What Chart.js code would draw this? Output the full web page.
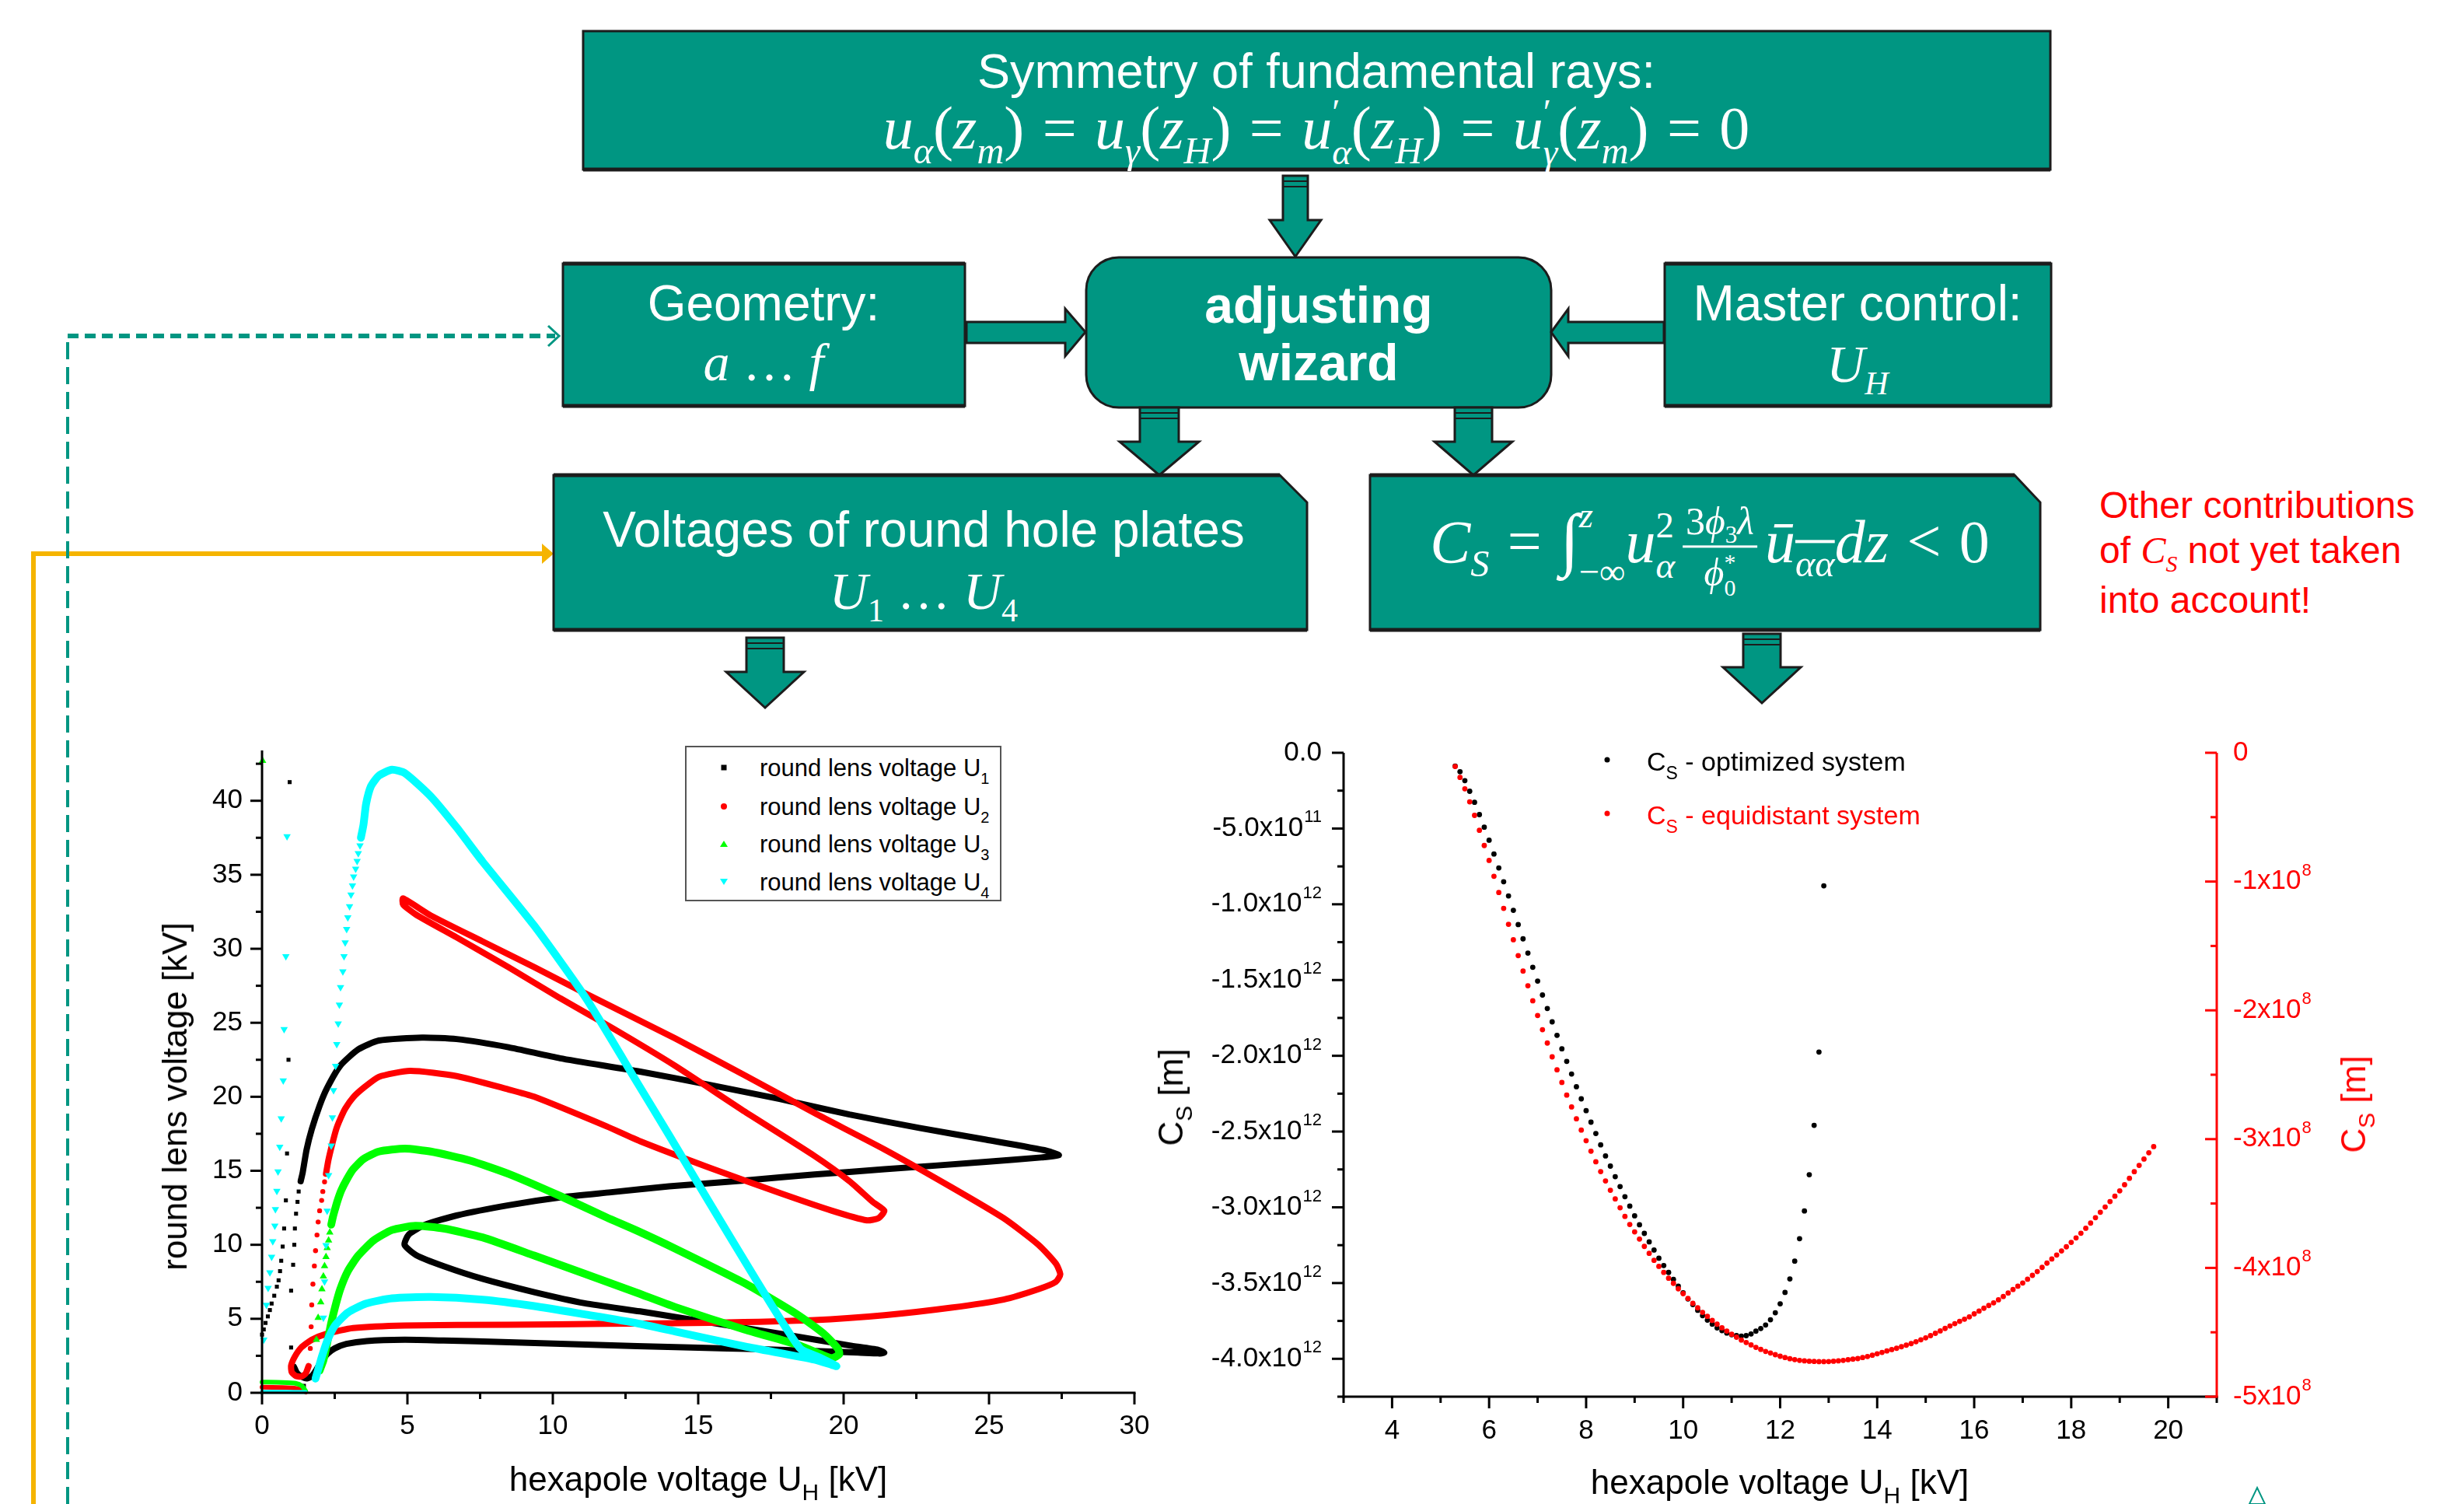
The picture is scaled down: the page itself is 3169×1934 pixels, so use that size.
<!DOCTYPE html>
<html>
<head>
<meta charset="utf-8">
<title>Adjusting wizard: round lens voltages and C_S</title>
<script src="https://cdn.jsdelivr.net/npm/chart.js@4.4.1/dist/chart.umd.min.js"></script>
<style>
  html, body { margin: 0; padding: 0; background: #fff; }
  body { position: relative; width: 3169px; height: 1934px; overflow: hidden; font-family: "Liberation Sans", Arial, sans-serif; }
  .abs { position: absolute; }
  .txt { position: absolute; color: #fff; white-space: nowrap; transform: translate(-50%, -50%); line-height: 1; }
  .m { font-family: "Liberation Serif", "DejaVu Serif", serif; }
  .eq { margin: 0 0.3em; }
  .sb { font-size: 0.62em; position: relative; top: 0.38em; }
  .stk { display: inline-flex; flex-direction: column; font-size: 0.6em; line-height: 1.1; vertical-align: 0.67em; text-align: left; }
  .frac { display: inline-flex; flex-direction: column; align-items: center; font-size: 0.64em; line-height: 1.1; vertical-align: 0.72em; margin: 0 10px; }
  .frac > span:first-child { border-bottom: 3px solid #fff; padding: 0 4px 3px; }
  .frac > span:last-child { padding-top: 3px; }
  .atitle { position: absolute; white-space: nowrap; font-size: 44px; line-height: 1; transform: translate(-50%, -50%); }
  .rot { transform: translate(-50%, -50%) rotate(-90deg); }
  .asub { font-size: 30px; position: relative; top: 12px; }
  .lrow { position: absolute; left: 0; height: 0; }
  .mk { position: absolute; left: 48px; transform: translate(-50%, -50%); }
  .lt { position: absolute; left: 94px; top: 0; transform: translateY(-50%); font-size: 31px; white-space: nowrap; line-height: 1; }
  .lsub { font-size: 20px; position: relative; top: 10px; }
  .sq { width: 7px; height: 7px; background: #000; }
  .ci { width: 8px; height: 8px; border-radius: 50%; background: #f00; }
  .tu { width: 0; height: 0; border-left: 5px solid transparent; border-right: 5px solid transparent; border-bottom: 8px solid #0f0; }
  .td { width: 0; height: 0; border-left: 5px solid transparent; border-right: 5px solid transparent; border-top: 8px solid #0ff; }
  .dot { position: absolute; width: 7px; height: 7px; border-radius: 50%; transform: translate(-50%, -50%); }
  .clt { position: absolute; font-size: 34px; line-height: 1; white-space: nowrap; }
  .csub { font-size: 23px; position: relative; top: 11px; }
</style>
</head>
<body>

<svg class="abs" style="left:0;top:0" width="3169" height="1934">
  <!-- feedback lines -->
  <polyline points="43,1934 43,712 700,712" fill="none" stroke="#f5b400" stroke-width="6"/>
  <polygon points="697,699 712,712 697,725" fill="#f5b400"/>
  <line x1="87" y1="1934" x2="87" y2="432" stroke="#009682" stroke-width="4" stroke-dasharray="22 10"/>
  <line x1="87" y1="432" x2="714" y2="432" stroke="#009682" stroke-width="6" stroke-dasharray="14 8"/>
  <polyline points="705,419 719,432 705,445" fill="none" stroke="#009682" stroke-width="3"/>

  <g fill="#009682" stroke="#1c1c1c" stroke-width="3">
    <rect x="750" y="40" width="1887" height="178"/>
    <rect x="724" y="339" width="517" height="183"/>
    <rect x="1397" y="331" width="598" height="193" rx="42"/>
    <rect x="2141" y="339" width="497" height="183"/>
    <polygon points="712,611 1646,611 1681,646 1681,810 712,810"/>
    <polygon points="1762,611 2591,611 2624,646 2624,810 1762,810"/>
    <!-- block arrows -->
    <polygon points="1650,226 1682,226 1682,283 1699,283 1666,330 1633,283 1650,283"/>
    <polygon points="1466,524 1516,524 1516,568 1542,568 1491,611 1440,568 1466,568"/>
    <polygon points="1871,524 1919,524 1919,568 1945,568 1895,611 1845,568 1871,568"/>
    <polygon points="960,820 1008,820 1008,864 1034,864 984,910 934,864 960,864"/>
    <polygon points="2242,815 2290,815 2290,858 2316,858 2266,904 2216,858 2242,858"/>
    <polygon points="1243,414 1370,414 1370,397 1396,427 1370,458 1370,441 1243,441"/>
    <polygon points="2140,414 2017,414 2017,397 1995,427 2017,458 2017,441 2140,441"/>
  </g>
  <g stroke="#1c1c1c" stroke-width="5">
    <line x1="750" y1="218" x2="2637" y2="218"/>
    <line x1="724" y1="339" x2="1241" y2="339"/>
    <line x1="724" y1="522" x2="1241" y2="522"/>
    <line x1="2141" y1="339" x2="2638" y2="339"/>
    <line x1="2141" y1="522" x2="2638" y2="522"/>
    <line x1="712" y1="611" x2="1646" y2="611"/>
    <line x1="712" y1="810" x2="1681" y2="810"/>
    <line x1="1762" y1="611" x2="2591" y2="611"/>
    <line x1="1762" y1="810" x2="2624" y2="810"/>
  </g>
  <g stroke="#1c1c1c" stroke-width="2">
    <line x1="1650" y1="233" x2="1682" y2="233"/><line x1="1650" y1="240" x2="1682" y2="240"/>
    <line x1="1466" y1="531" x2="1516" y2="531"/><line x1="1466" y1="538" x2="1516" y2="538"/>
    <line x1="1871" y1="531" x2="1919" y2="531"/><line x1="1871" y1="538" x2="1919" y2="538"/>
    <line x1="960" y1="827" x2="1008" y2="827"/><line x1="960" y1="834" x2="1008" y2="834"/>
    <line x1="2242" y1="822" x2="2290" y2="822"/><line x1="2242" y1="829" x2="2290" y2="829"/>
  </g>
  <polygon points="2893,1934 2903,1913 2913,1934" fill="none" stroke="#009682" stroke-width="2"/>
</svg>

<!-- flow chart texts -->
<div class="txt" style="left:1693px;top:91px;font-size:63px">Symmetry of fundamental rays:</div>
<div class="txt m" style="left:1693px;top:170px;font-size:78px">
  <i>u</i><span class="sb"><i>α</i></span>(<i>z</i><span class="sb"><i>m</i></span>)<span class="eq">=</span><i>u</i><span class="sb"><i>γ</i></span>(<i>z</i><span class="sb"><i>H</i></span>)<span class="eq">=</span><i>u</i><span class="stk"><span>′</span><span><i>α</i></span></span>(<i>z</i><span class="sb"><i>H</i></span>)<span class="eq">=</span><i>u</i><span class="stk"><span>′</span><span><i>γ</i></span></span>(<i>z</i><span class="sb"><i>m</i></span>)<span class="eq">=</span>0
</div>
<div class="txt" style="left:982px;top:390px;font-size:64px">Geometry:</div>
<div class="txt m" style="left:982px;top:466px;font-size:68px"><i>a</i> … <i>f</i></div>
<div class="txt" style="left:1696px;top:392px;font-size:66px;font-weight:bold">adjusting</div>
<div class="txt" style="left:1696px;top:466px;font-size:66px;font-weight:bold">wizard</div>
<div class="txt" style="left:2389px;top:390px;font-size:64px">Master control:</div>
<div class="txt m" style="left:2389px;top:468px;font-size:68px"><i>U</i><span class="sb"><i>H</i></span></div>
<div class="txt" style="left:1188px;top:681px;font-size:64px">Voltages of round hole plates</div>
<div class="txt m" style="left:1188px;top:760px;font-size:68px"><i>U</i><span class="sb">1</span> … <i>U</i><span class="sb">4</span></div>
<div class="txt m" style="left:2199px;top:700px;font-size:78px">
  <i>C</i><span class="sb"><i>S</i></span><span class="eq">=</span><span style="font-size:1.15em">∫</span><span class="stk" style="line-height:1.55;vertical-align:0.95em"><span><i>z</i></span><span>−∞</span></span><i>u</i><span class="stk"><span>2</span><span><i>α</i></span></span><span class="frac"><span>3<i>ϕ</i><span class="sb">3</span><i>λ</i></span><span><i>ϕ</i><span class="stk"><span>*</span><span>0</span></span></span></span><i>ū</i><span class="sb"><i style="text-decoration:overline">αα</i></span><i>dz</i><span class="eq">&lt;</span>0
</div>
<div class="abs" style="left:2700px;top:621px;font-size:48px;line-height:58px;color:#f00;white-space:nowrap">Other contributions<br>of <i class="m">C</i><span class="sb m"><i>S</i></span> not yet taken<br>into account!</div>

<!-- charts -->
<canvas id="voltChart" class="abs" style="left:150px;top:930px" width="1350" height="1004"></canvas>
<canvas id="csChart" class="abs" style="left:1520px;top:930px" width="1649" height="1004"></canvas>

<div class="atitle rot" style="left:225px;top:1410px">round lens voltage [kV]</div>
<div class="atitle" style="left:898px;top:1902px">hexapole voltage U<span class="asub">H</span> [kV]</div>
<div class="atitle rot" style="left:1506px;top:1411px">C<span class="asub">S</span> [m]</div>
<div class="atitle rot" style="left:3027px;top:1420px;color:#f00">C<span class="asub">S</span> [m]</div>
<div class="atitle" style="left:2289px;top:1906px">hexapole voltage U<span class="asub">H</span> [kV]</div>

<div class="abs" style="left:881px;top:959px;width:403px;height:196px;border:2px solid #555;background:#fff">
  <div class="lrow" style="top:26px"><div class="mk sq"></div><div class="lt">round lens voltage U<span class="lsub">1</span></div></div>
  <div class="lrow" style="top:76px"><div class="mk ci"></div><div class="lt">round lens voltage U<span class="lsub">2</span></div></div>
  <div class="lrow" style="top:124px"><div class="mk tu"></div><div class="lt">round lens voltage U<span class="lsub">3</span></div></div>
  <div class="lrow" style="top:173px"><div class="mk td"></div><div class="lt">round lens voltage U<span class="lsub">4</span></div></div>
</div>

<div class="dot" style="left:2067px;top:977px;background:#000"></div>
<div class="clt" style="left:2118px;top:962px;color:#000">C<span class="csub">S</span> - optimized system</div>
<div class="dot" style="left:2067px;top:1046px;background:#f00"></div>
<div class="clt" style="left:2118px;top:1031px;color:#f00">C<span class="csub">S</span> - equidistant system</div>

<script>
// ---------- left chart: round lens voltages [kV] vs hexapole voltage U_H [kV] ----------
// dense parts of each series are traced as paths, sparse parts are single markers
const u1Curve = [[1.1,1.75],[1.2,1.35],[1.35,1.1],[1.55,0.97],[1.72,1.15],[1.88,1.6],[2.0,2.0],[2.24,2.62],[2.5,3.0],[2.9,3.3],[3.6,3.5],[4.9,3.58],[6.25,3.53],[8.5,3.42],[10.7,3.28],[12.9,3.15],[15.0,3.05],[17.0,2.95],[19.0,2.82],[20.5,2.72],[21.2,2.66],[21.4,2.7],[21.2,2.9],[20.2,3.2],[17.8,4.0],[15.4,4.75],[13.0,5.5],[11.1,6.05],[9.36,6.8],[7.58,7.7],[6.25,8.55],[5.3,9.3],[4.9,10.0],[5.05,10.7],[5.62,11.36],[6.69,11.98],[8.47,12.67],[10.25,13.2],[12.0,13.55],[14.0,13.95],[16.6,14.35],[19.0,14.75],[21.4,15.1],[24.9,15.6],[26.8,15.9],[27.4,16.05],[27.0,16.35],[24.9,17.1],[22.6,17.9],[20.2,18.8],[17.8,19.85],[15.4,20.8],[13.0,21.7],[10.25,22.6],[8.47,23.35],[6.69,23.9],[5.5,24.0],[4.02,23.8],[3.31,23.2],[2.69,22.1],[2.24,20.6],[1.98,19.4],[1.71,17.8],[1.53,16.4],[1.40,14.9],[1.33,14.3]];
const u1Dots = [[1.26,13.6],[1.22,12.9],[1.17,12.1],[1.13,11.1],[1.11,10.0],[1.07,8.65],[1.0,6.9],[1.0,3.06],[1.44,0.47],[0.0,3.93],[0.06,4.28],[0.12,4.72],[0.2,5.16],[0.27,5.59],[0.33,6.03],[0.42,6.56],[0.51,7.17],[0.57,7.6],[0.62,8.22],[0.66,8.92],[0.71,9.88],[0.76,11.1],[0.82,13.0],[0.86,16.17],[0.91,22.5],[0.95,41.26]];

const u2Curve = [[2.2,14.8],[2.28,15.7],[2.4,16.7],[2.55,17.8],[2.69,18.5],[2.86,19.2],[3.13,19.95],[3.49,20.6],[4.02,21.35],[5.09,21.75],[6.69,21.4],[8.47,20.5],[9.36,20.0],[11.85,18.0],[13.0,17.0],[15.4,15.2],[17.8,13.5],[19.6,12.3],[20.8,11.65],[21.2,11.8],[21.4,12.3],[21.0,12.9],[20.2,14.3],[19.0,16.0],[16.6,19.0],[14.2,22.1],[12.0,24.7],[10.25,26.66],[8.47,28.76],[6.69,30.77],[5.3,32.3],[4.85,33.0],[4.85,33.4],[5.8,32.25],[7.58,30.5],[9.36,28.76],[11.1,27.0],[14.2,23.95],[16.6,21.45],[19.0,18.9],[21.4,16.45],[23.7,13.9],[25.5,11.8],[26.7,10.0],[27.3,8.73],[27.45,8.0],[27.3,7.5],[26.7,7.0],[25.5,6.3],[23.7,5.75],[21.4,5.24],[19.0,4.91],[15.4,4.73],[11.85,4.66],[8.47,4.6],[4.91,4.55],[3.13,4.37],[2.24,4.0],[1.71,3.58],[1.35,3.06],[1.13,2.45],[1.0,1.84],[1.02,1.4],[1.15,1.15],[1.35,1.1],[1.5,1.3],[1.6,1.8]];
const u2Dots = [[1.66,3.0],[1.69,4.46],[1.71,5.94],[1.75,7.34],[1.8,8.57],[1.84,9.6],[1.89,10.66],[1.93,11.54],[1.98,12.3],[2.05,13.0],[2.09,13.6],[2.15,14.25]];
const u2Base = [[0,0.38],[0.7,0.35],[1.15,0.3],[1.4,0.18],[1.5,0.05]];

const u3Curve = [[1.98,1.5],[2.11,2.19],[2.2,2.97],[2.29,3.85],[2.38,4.72],[2.51,5.77],[2.69,7.0],[2.95,8.22],[3.31,9.27],[3.84,10.3],[4.47,11.0],[5.27,11.28],[6.25,11.1],[7.58,10.5],[9.36,9.27],[11.1,8.04],[12.9,6.75],[14.2,5.8],[16.6,4.27],[18.4,3.26],[19.2,2.62],[19.6,2.35],[19.85,2.6],[19.8,3.0],[19.3,4.02],[18.4,5.3],[16.6,7.4],[14.2,9.75],[12.9,10.95],[11.85,11.85],[10.25,13.3],[8.47,14.8],[7.14,15.7],[5.8,16.3],[4.91,16.5],[4.02,16.3],[3.49,15.8],[3.13,15.1],[2.91,14.4],[2.73,13.7],[2.6,13.0],[2.51,12.4],[2.44,11.9],[2.38,11.36]];
const u3Dots = [[2.33,10.84],[2.29,10.3],[2.24,9.79],[2.2,9.18],[2.15,8.57],[2.11,7.87],[2.06,7.0],[2.02,6.12],[1.93,5.07],[1.87,3.58],[0.02,42.7]];
const u3Base = [[0,0.72],[0.7,0.7],[1.15,0.64],[1.38,0.45],[1.5,0.12]];

const u4Curve = [[1.84,0.96],[1.93,1.57],[2.06,2.45],[2.24,3.5],[2.51,4.55],[2.95,5.42],[3.58,6.03],[4.47,6.38],[5.8,6.47],[7.58,6.29],[9.36,5.86],[11.1,5.3],[12.9,4.7],[14.2,4.15],[16.6,3.13],[19.0,2.24],[19.75,1.8],[19.1,2.45],[18.5,3.0],[17.0,7.6],[15.4,12.8],[14.0,17.4],[12.92,20.9],[11.14,26.66],[9.36,31.56],[7.58,35.9],[6.69,38.2],[5.8,40.3],[4.91,41.87],[4.47,42.1],[4.02,41.7],[3.75,41.0],[3.58,39.8],[3.49,38.4],[3.4,37.5]];
const u4Dots = [[3.37,36.98],[3.31,36.45],[3.27,35.93],[3.22,35.4],[3.15,34.88],[3.11,34.27],[3.06,33.65],[3.01,32.87],[2.95,32.12],[2.91,31.33],[2.86,30.42],[2.82,29.49],[2.78,28.46],[2.70,27.4],[2.66,26.22],[2.62,24.95],[2.57,23.55],[2.53,22.08],[2.46,20.44],[2.42,18.6],[2.38,16.7],[2.29,14.7],[2.24,12.3],[2.2,9.97],[2.15,7.52],[2.11,5.07],[0.06,3.58],[0.15,5.94],[0.21,7.08],[0.27,8.13],[0.33,9.18],[0.37,10.23],[0.44,11.28],[0.46,12.4],[0.51,13.64],[0.55,14.95],[0.61,16.61],[0.66,18.53],[0.73,21.1],[0.76,24.56],[0.82,29.49],[0.86,37.6]];
const u4Base = [[0,0.07],[1.5,0.05]];

const voltXMajor = [0, 5, 10, 15, 20, 25, 30];
const voltXMinor = [2.5, 7.5, 12.5, 17.5, 22.5, 27.5];
const voltYMajor = [0, 5, 10, 15, 20, 25, 30, 35, 40];
const voltYMinor = [2.5, 7.5, 12.5, 17.5, 22.5, 27.5, 32.5, 37.5, 42.5];

// ---------- right chart: C_S vs hexapole voltage U_H [kV] ----------
const csUH = [5.3,5.4,5.5,5.6,5.7,5.8,5.9,6.0,6.1,6.2,6.3,6.4,6.5,6.6,6.7,6.8,6.9,7.0,7.1,7.2,7.3,7.4,7.5,7.6,7.7,7.8,7.9,8.0,8.1,8.2,8.3,8.4,8.5,8.6,8.7,8.8,8.9,9.0,9.1,9.2,9.3,9.4,9.5,9.6,9.7,9.8,9.9,10.0,10.1,10.2,10.3,10.4,10.5,10.6,10.7,10.8,10.9,11.0,11.1,11.2,11.3,11.4,11.5,11.6,11.7,11.8,11.9,12.0,12.1,12.2,12.3,12.4,12.5,12.6,12.7,12.8,12.9,13.0,13.1,13.2,13.3,13.4,13.5,13.6,13.7,13.8,13.9,14.0,14.1,14.2,14.3,14.4,14.5,14.6,14.7,14.8,14.9,15.0,15.1,15.2,15.3,15.4,15.5,15.6,15.7,15.8,15.9,16.0,16.1,16.2,16.3,16.4,16.5,16.6,16.7,16.8,16.9,17.0,17.1,17.2,17.3,17.4,17.5,17.6,17.7,17.8,17.9,18.0,18.1,18.2,18.3,18.4,18.5,18.6,18.7,18.8,18.9,19.0,19.1,19.2,19.3,19.4,19.5,19.6,19.7];
// optimized system, units of 1e12 m (left axis)
const csOptimized = [-0.088,-0.125,-0.184,-0.254,-0.327,-0.408,-0.491,-0.577,-0.668,-0.760,-0.851,-0.945,-1.040,-1.134,-1.228,-1.322,-1.416,-1.507,-1.599,-1.688,-1.776,-1.865,-1.954,-2.037,-2.120,-2.204,-2.284,-2.362,-2.438,-2.513,-2.588,-2.661,-2.728,-2.798,-2.863,-2.930,-2.992,-3.056,-3.115,-3.172,-3.228,-3.282,-3.336,-3.384,-3.430,-3.476,-3.521,-3.564,-3.605,-3.642,-3.680,-3.715,-3.745,-3.771,-3.796,-3.814,-3.830,-3.841,-3.847,-3.850,-3.847,-3.836,-3.817,-3.800,-3.777,-3.742,-3.696,-3.637,-3.562,-3.473,-3.355,-3.207,-3.024,-2.785,-2.459,-1.975,-0.878];
// equidistant system, units of 1e8 m (right axis)
const csEquidistant = [-0.106,-0.191,-0.280,-0.381,-0.486,-0.602,-0.720,-0.836,-0.959,-1.085,-1.208,-1.332,-1.452,-1.575,-1.695,-1.809,-1.926,-2.040,-2.150,-2.254,-2.361,-2.462,-2.560,-2.658,-2.750,-2.842,-2.930,-3.012,-3.094,-3.176,-3.252,-3.325,-3.397,-3.464,-3.533,-3.600,-3.663,-3.720,-3.776,-3.833,-3.887,-3.941,-3.988,-4.035,-4.080,-4.120,-4.162,-4.200,-4.237,-4.275,-4.310,-4.345,-4.376,-4.408,-4.437,-4.465,-4.490,-4.515,-4.538,-4.560,-4.579,-4.598,-4.617,-4.633,-4.649,-4.661,-4.674,-4.686,-4.696,-4.705,-4.712,-4.718,-4.722,-4.725,-4.726,-4.728,-4.728,-4.727,-4.725,-4.722,-4.718,-4.713,-4.708,-4.704,-4.696,-4.688,-4.678,-4.667,-4.656,-4.645,-4.634,-4.624,-4.612,-4.600,-4.588,-4.573,-4.558,-4.543,-4.526,-4.508,-4.489,-4.470,-4.451,-4.433,-4.415,-4.398,-4.380,-4.357,-4.335,-4.313,-4.292,-4.271,-4.248,-4.222,-4.195,-4.168,-4.142,-4.117,-4.088,-4.058,-4.028,-3.996,-3.963,-3.931,-3.900,-3.868,-3.836,-3.802,-3.767,-3.731,-3.692,-3.652,-3.610,-3.568,-3.527,-3.485,-3.443,-3.402,-3.354,-3.304,-3.253,-3.204,-3.155,-3.106,-3.058];

const csXMajor = [4, 6, 8, 10, 12, 14, 16, 18, 20];
const csXMinor = [3, 5, 7, 9, 11, 13, 15, 17, 19, 21];
const csOptTicks = [0, -0.5, -1, -1.5, -2, -2.5, -3, -3.5, -4];
const csOptLabels = [['0.0', ''], ['-5.0x10', '11'], ['-1.0x10', '12'], ['-1.5x10', '12'], ['-2.0x10', '12'], ['-2.5x10', '12'], ['-3.0x10', '12'], ['-3.5x10', '12'], ['-4.0x10', '12']];
const csOptMinor = [-0.25, -0.75, -1.25, -1.75, -2.25, -2.75, -3.25, -3.75, -4.25];
const csEqTicks = [0, -1, -2, -3, -4, -5];
const csEqLabels = [['0', ''], ['-1x10', '8'], ['-2x10', '8'], ['-3x10', '8'], ['-4x10', '8'], ['-5x10', '8']];
const csEqMinor = [-0.5, -1.5, -2.5, -3.5, -4.5];

// ---------- helpers ----------
const FONT = '"Liberation Sans", Arial, sans-serif';
const pts = arr => arr.map(([x, y]) => ({ x, y }));

function curve(data, color, width, order) {
  return { data: pts(data), showLine: true, borderColor: color, borderWidth: width, pointRadius: 0,
    tension: 0.2, borderCapStyle: 'round', borderJoinStyle: 'round', fill: false, order, clip: false };
}
function dots(data, color, style, radius, order, rotation) {
  return { data: pts(data), showLine: false, pointStyle: style, pointRadius: radius, pointRotation: rotation || 0,
    pointBackgroundColor: color, pointBorderWidth: 0, order, clip: false };
}

function drawTickLabel(ctx, text, sup, x, y, align, color, size) {
  const mainFont = size + 'px ' + FONT;
  const supFont = Math.round(size * 0.64) + 'px ' + FONT;
  ctx.font = mainFont;
  const w1 = ctx.measureText(text).width;
  ctx.font = supFont;
  const w2 = sup ? ctx.measureText(sup).width + 1 : 0;
  const total = w1 + w2;
  const x0 = align === 'right' ? x - total : align === 'center' ? x - total / 2 : x;
  ctx.fillStyle = color;
  ctx.textAlign = 'left';
  ctx.textBaseline = 'middle';
  ctx.font = mainFont;
  ctx.fillText(text, x0, y);
  if (sup) {
    ctx.font = supFont;
    ctx.fillText(sup, x0 + w1 + 1, y - size * 0.4);
  }
}

// Origin-style axes: line, major + minor ticks and labels, all placed through the chart scales
function axisPainter(axes) {
  return {
    id: 'axisPainter',
    afterDatasetsDraw(chart) {
      const { ctx, chartArea: a } = chart;
      axes.forEach(ax => {
        const sc = chart.scales[ax.scale];
        const horiz = ax.edge === 'bottom';
        const base = horiz ? a.bottom : ax.edge === 'left' ? a.left : a.right;
        ctx.save();
        ctx.strokeStyle = ax.color;
        ctx.lineWidth = 3;
        ctx.beginPath();
        if (horiz) { ctx.moveTo(a.left - 1.5, base); ctx.lineTo(a.right + 1.5, base); }
        else { ctx.moveTo(base, a.top); ctx.lineTo(base, a.bottom + 1.5); }
        ctx.stroke();
        const mark = (v, len) => {
          const p = sc.getPixelForValue(v);
          ctx.beginPath();
          if (horiz) { ctx.moveTo(p, base); ctx.lineTo(p, base + len * ax.dir); }
          else { ctx.moveTo(base, p); ctx.lineTo(base + len * ax.dir, p); }
          ctx.stroke();
        };
        ax.minor.forEach(v => mark(v, 8));
        ax.major.forEach(v => mark(v, 15));
        ax.major.forEach((v, i) => {
          const [txt, sup] = ax.labels ? ax.labels[i] : [String(v), ''];
          const p = sc.getPixelForValue(v);
          if (horiz) drawTickLabel(ctx, txt, sup, p, base + ax.offset, 'center', ax.color, ax.size);
          else if (ax.edge === 'left') drawTickLabel(ctx, txt, sup, base - ax.offset, p, 'right', ax.color, ax.size);
          else drawTickLabel(ctx, txt, sup, base + ax.offset, p, 'left', ax.color, ax.size);
        });
        ctx.restore();
      });
    }
  };
}

// ---------- left chart ----------
new Chart(document.getElementById('voltChart'), {
  type: 'scatter',
  data: {
    datasets: [
      curve(u1Curve, '#000000', 8, 8),
      dots(u1Dots, '#000000', 'rect', 3.6, 7),
      curve(u2Curve, '#ff0000', 8, 6),
      curve(u2Base, '#ff0000', 6, 6),
      dots(u2Dots, '#ff0000', 'circle', 3.2, 5),
      curve(u3Curve, '#00ff00', 10, 4),
      curve(u3Base, '#00ff00', 6, 4),
      dots(u3Dots, '#00ff00', 'triangle', 5.5, 3),
      curve(u4Curve, '#00ffff', 10, 2),
      curve(u4Base, '#00ffff', 5, 2),
      dots(u4Dots, '#00ffff', 'triangle', 5.5, 1, 180)
    ]
  },
  options: {
    responsive: false,
    animation: false,
    events: [],
    layout: { padding: { left: 187, right: 41, top: 35, bottom: 143 } },
    plugins: { legend: { display: false }, tooltip: { enabled: false } },
    scales: {
      x: { type: 'linear', display: false, min: 0, max: 30 },
      y: { type: 'linear', display: false, min: 0, max: 43.4 }
    }
  },
  plugins: [axisPainter([
    { scale: 'x', edge: 'bottom', dir: 1, color: '#000', major: voltXMajor, minor: voltXMinor, offset: 43, size: 35 },
    { scale: 'y', edge: 'left', dir: -1, color: '#000', major: voltYMajor, minor: voltYMinor, offset: 25, size: 35 }
  ])]
});

// ---------- right chart ----------
new Chart(document.getElementById('csChart'), {
  type: 'scatter',
  data: {
    datasets: [
      { data: csEquidistant.map((y, i) => ({ x: csUH[i], y })), yAxisID: 'y2', pointStyle: 'circle', pointRadius: 3.4,
        pointBackgroundColor: '#ff0000', pointBorderWidth: 0, showLine: false, order: 1, clip: false },
      { data: csOptimized.map((y, i) => ({ x: csUH[i], y })), yAxisID: 'y', pointStyle: 'circle', pointRadius: 3.4,
        pointBackgroundColor: '#000000', pointBorderWidth: 0, showLine: false, order: 2, clip: false }
    ]
  },
  options: {
    responsive: false,
    animation: false,
    events: [],
    layout: { padding: { left: 208, right: 318, top: 38, bottom: 138 } },
    plugins: { legend: { display: false }, tooltip: { enabled: false } },
    scales: {
      x: { type: 'linear', display: false, min: 3, max: 21 },
      y: { type: 'linear', display: false, min: -4.25, max: 0 },
      y2: { type: 'linear', display: false, min: -5, max: 0, position: 'right' }
    }
  },
  plugins: [axisPainter([
    { scale: 'x', edge: 'bottom', dir: 1, color: '#000', major: csXMajor, minor: csXMinor, offset: 44, size: 35 },
    { scale: 'y', edge: 'left', dir: -1, color: '#000', major: csOptTicks, minor: csOptMinor, labels: csOptLabels, offset: 28, size: 35 },
    { scale: 'y2', edge: 'right', dir: -1, color: '#ff0000', major: csEqTicks, minor: csEqMinor, labels: csEqLabels, offset: 21, size: 35 }
  ])]
});
</script>
</body>
</html>
